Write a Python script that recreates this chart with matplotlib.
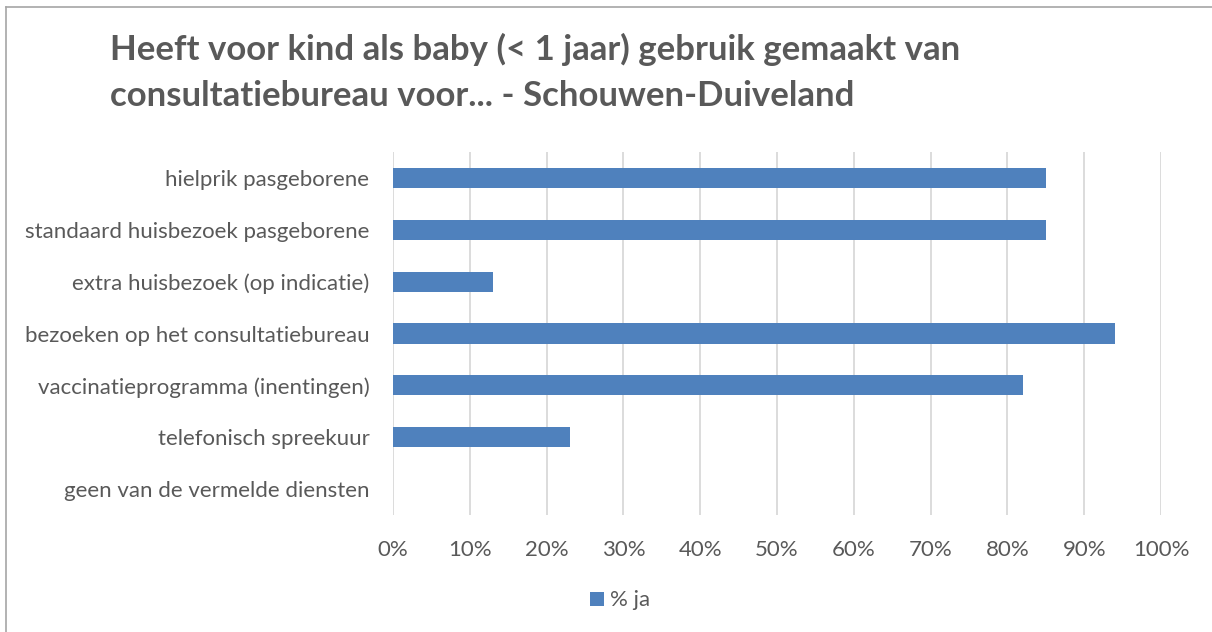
import numpy as np
import matplotlib
matplotlib.use('Agg')
import matplotlib.pyplot as plt
from matplotlib.lines import Line2D
from matplotlib.ticker import FuncFormatter

categories = [
    "hielprik pasgeborene",
    "standaard huisbezoek pasgeborene",
    "extra huisbezoek (op indicatie)",
    "bezoeken op het consultatiebureau",
    "vaccinatieprogramma (inentingen)",
    "telefonisch spreekuur",
    "geen van de vermelde diensten",
]
pct_ja = [85, 85, 13, 94, 82, 23, 0]
series_label = "% ja"
title = ("Heeft voor kind als baby (< 1 jaar) gebruik gemaakt van\n"
         "consultatiebureau voor... - Schouwen-Duiveland")

BAR_COLOUR = "#4F81BD"
TEXT_COLOUR = "#595959"
GRID_COLOUR = "#D9D9D9"
FONT = ["Lato", "DejaVu Sans"]

plt.rcParams['font.family'] = FONT

fig = plt.figure(figsize=(12.12, 6.32), dpi=100)
ax = fig.add_axes([0.3243, 0.1851, 0.6337, 0.5744])

y = np.arange(len(categories))
ax.barh(y, pct_ja, height=0.39, color=BAR_COLOUR, label=series_label, zorder=3)

ax.set_xlim(0, 100)
ax.set_xticks(np.arange(0, 101, 10))
ax.xaxis.set_major_formatter(FuncFormatter(lambda v, _: f"{int(v)}%"))
ax.set_ylim(len(categories) - 0.5, -0.5)
ax.set_yticks(y)
ax.set_yticklabels(categories)

ax.grid(True, axis="x", color=GRID_COLOUR, linewidth=1.3, zorder=0)
for s in ax.spines.values():
    s.set_visible(False)
ax.tick_params(axis="both", length=0, labelsize=16, colors=TEXT_COLOUR)
ax.tick_params(axis="y", pad=17)
ax.tick_params(axis="x", pad=18)

fig.text(0.0908, 0.948, title, fontsize=25, fontweight="bold",
         color=TEXT_COLOUR, ha="left", va="top", linespacing=1.55)

fig.legend(loc="center", bbox_to_anchor=(0.512, 0.05), frameon=False,
           fontsize=16, labelcolor=TEXT_COLOUR, handlelength=0.6,
           handleheight=0.6, handletextpad=0.3)

# chart frame (top and left edges visible)
fig.add_artist(Line2D([0.005, 1.0], [0.989, 0.989], color="#A6A6A6", linewidth=1.2))
fig.add_artist(Line2D([0.005, 0.005], [0.0, 0.989], color="#A6A6A6", linewidth=1.2))

fig.savefig("out.png", dpi=100)
